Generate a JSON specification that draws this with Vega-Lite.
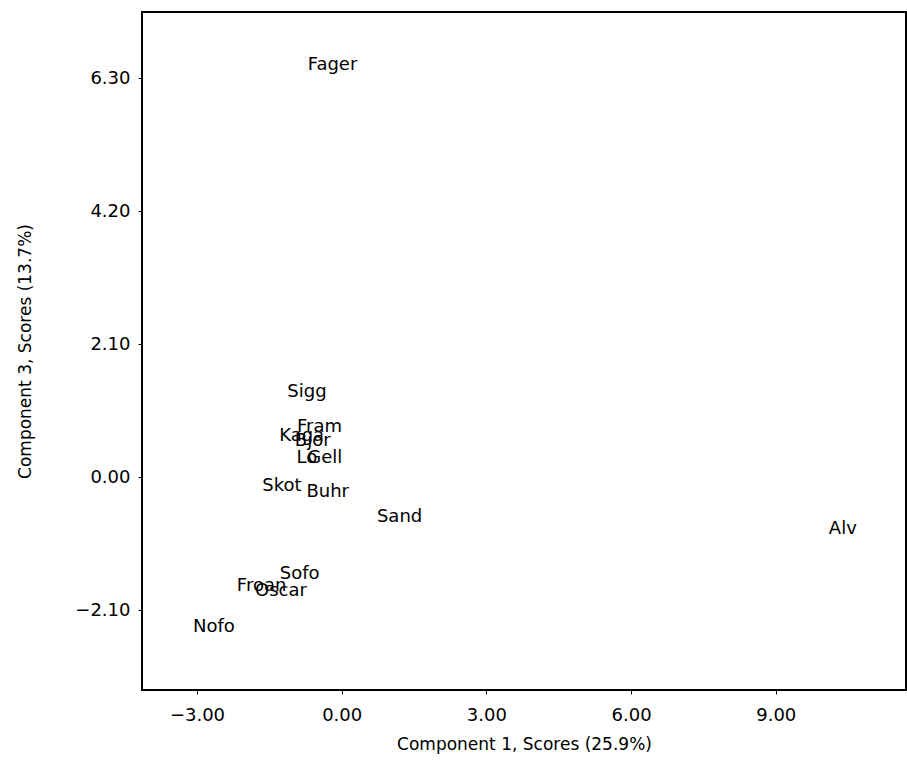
{
  "$schema": "https://vega.github.io/schema/vega-lite/v6.json",
  "width": 764,
  "height": 678,
  "autosize": "none",
  "padding": {"left": 142, "top": 12, "right": 1, "bottom": 70},
  "background": "white",
  "config": {
    "view": {"stroke": "black", "strokeWidth": 2},
    "font": "DejaVu Sans",
    "axis": {
      "domain": false,
      "grid": false,
      "ticks": true,
      "tickColor": "black",
      "tickSize": 4,
      "labelColor": "black",
      "titleColor": "black",
      "labelFont": "DejaVu Sans",
      "titleFont": "DejaVu Sans",
      "labelFontSize": 18,
      "titleFontSize": 17,
      "titleFontWeight": "normal"
    }
  },
  "data": {
    "values": [
      {"site": "Fager", "c1": -0.19, "c3": 6.51},
      {"site": "Sigg", "c1": -0.72, "c3": 1.34},
      {"site": "Fram", "c1": -0.46, "c3": 0.79},
      {"site": "Kaga", "c1": -0.83, "c3": 0.66},
      {"site": "Bjor", "c1": -0.6, "c3": 0.57},
      {"site": "Lo", "c1": -0.72, "c3": 0.3},
      {"site": "Gell", "c1": -0.35, "c3": 0.3},
      {"site": "Skot", "c1": -1.24, "c3": -0.13},
      {"site": "Buhr", "c1": -0.29, "c3": -0.24},
      {"site": "Sand", "c1": 1.2, "c3": -0.63},
      {"site": "Alv", "c1": 10.39, "c3": -0.81},
      {"site": "Sofo", "c1": -0.87, "c3": -1.52},
      {"site": "Froan", "c1": -1.66, "c3": -1.71},
      {"site": "Oscar", "c1": -1.26, "c3": -1.79},
      {"site": "Nofo", "c1": -2.65, "c3": -2.37}
    ]
  },
  "mark": {"type": "text", "align": "center", "baseline": "middle", "fontSize": 18, "color": "black", "font": "DejaVu Sans"},
  "encoding": {
    "x": {
      "field": "c1",
      "type": "quantitative",
      "scale": {"domain": [-4.14, 11.7], "nice": false, "zero": false},
      "axis": {"values": [-3, 0, 3, 6, 9], "format": ".2f", "title": "Component 1, Scores (25.9%)", "labelPadding": 12, "titlePadding": 12}
    },
    "y": {
      "field": "c3",
      "type": "quantitative",
      "scale": {"domain": [-3.36, 7.35], "nice": false, "zero": false},
      "axis": {"values": [-2.1, 0, 2.1, 4.2, 6.3], "format": ".2f", "title": "Component 3, Scores (13.7%)", "labelPadding": 8, "titlePadding": 40}
    },
    "text": {"field": "site"}
  }
}
